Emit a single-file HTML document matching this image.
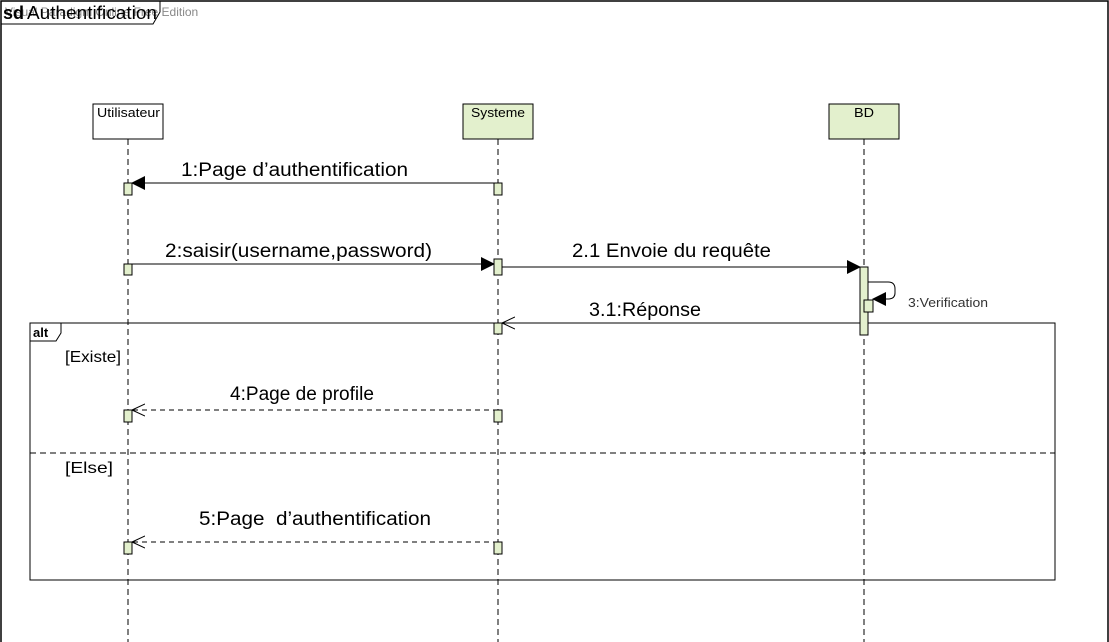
<!DOCTYPE html>
<html><head><meta charset="utf-8"><style>body{margin:0;background:#fff}svg{display:block}</style></head><body>
<svg width="1109" height="642" xmlns="http://www.w3.org/2000/svg" font-family="Liberation Sans, Arial, sans-serif">
<defs>
<marker id="f" markerWidth="14" markerHeight="14" refX="13" refY="7" orient="auto" markerUnits="userSpaceOnUse"><path d="M0,0 L14,7 L0,14 z" fill="#000"/></marker>
<marker id="o" markerWidth="14" markerHeight="14" refX="13" refY="7" orient="auto" markerUnits="userSpaceOnUse"><path d="M0,1 L13,7 L0,13" fill="none" stroke="#000"/></marker>
</defs>
<rect x="1" y="1" width="1107" height="660" fill="none" stroke="#000" stroke-width="1.5"/>
<text x="5" y="16" font-size="12" fill="#888">Visual Paradigm Online Free Edition</text>
<path d="M1,24 L153,24 L160,12 L160,1" fill="none" stroke="#000"/>
<text x="3" y="19" font-size="18" font-weight="bold">sd</text>
<text x="27" y="19" font-size="18" textLength="130" lengthAdjust="spacingAndGlyphs">Authentification</text>
<g stroke="#000" stroke-dasharray="6,4">
<line x1="128" y1="139" x2="128" y2="642"/>
<line x1="498" y1="139" x2="498" y2="642"/>
<line x1="864" y1="139" x2="864" y2="642"/>
</g>
<rect x="93" y="104" width="70" height="35" fill="#fff" stroke="#000"/>
<rect x="463" y="104" width="70" height="35" fill="#e3f0cd" stroke="#000"/>
<rect x="829" y="104" width="70" height="35" fill="#e3f0cd" stroke="#000"/>
<g font-size="13">
<text x="97" y="117" textLength="63" lengthAdjust="spacingAndGlyphs">Utilisateur</text>
<text x="471" y="117" textLength="54" lengthAdjust="spacingAndGlyphs">Systeme</text>
<text x="854" y="117" textLength="20" lengthAdjust="spacingAndGlyphs">BD</text>
</g>
<rect x="30" y="323" width="1025" height="257" fill="none" stroke="#000"/>
<path d="M30,341 L56,341 L61,333 L61,323" fill="none" stroke="#000"/>
<text x="33" y="337" font-size="13" font-weight="bold">alt</text>
<line x1="30" y1="453" x2="1055" y2="453" stroke="#000" stroke-dasharray="6,4"/>
<text x="65" y="362" font-size="16" textLength="56" lengthAdjust="spacingAndGlyphs">[Existe]</text>
<text x="65" y="473" font-size="16" textLength="48" lengthAdjust="spacingAndGlyphs">[Else]</text>
<g stroke="#000" fill="none">
<line x1="498" y1="183" x2="132" y2="183" marker-end="url(#f)"/>
<line x1="128" y1="264" x2="494" y2="264" marker-end="url(#f)"/>
<line x1="502" y1="267" x2="860" y2="267" marker-end="url(#f)"/>
<path d="M868,282 L888,282 Q895,282 895,289 L895,293 Q895,299 888,299 L873,299" marker-end="url(#f)"/>
<line x1="860" y1="323" x2="502" y2="323" marker-end="url(#o)"/>
<line x1="498" y1="410" x2="132" y2="410" stroke-dasharray="5,4" marker-end="url(#o)"/>
<line x1="498" y1="542" x2="132" y2="542" stroke-dasharray="5,4" marker-end="url(#o)"/>
</g>
<g fill="#e3f0cd" stroke="#000">
<rect x="124" y="183" width="8" height="12"/>
<rect x="494" y="183" width="8" height="12"/>
<rect x="124" y="264" width="8" height="11"/>
<rect x="494" y="259" width="8" height="16"/>
<rect x="860" y="267" width="8" height="68"/>
<rect x="864" y="300" width="9" height="12"/>
<rect x="494" y="323" width="8" height="11"/>
<rect x="124" y="410" width="8" height="12"/>
<rect x="494" y="410" width="8" height="12"/>
<rect x="124" y="542" width="8" height="12"/>
<rect x="494" y="542" width="8" height="12"/>
</g>
<g font-size="19" lengthAdjust="spacingAndGlyphs">
<text x="181" y="176" textLength="227" lengthAdjust="spacingAndGlyphs">1:Page d’authentification</text>
<text x="165" y="257" textLength="267" lengthAdjust="spacingAndGlyphs">2:saisir(username,password)</text>
<text x="572" y="257" textLength="199" lengthAdjust="spacingAndGlyphs">2.1 Envoie du requête</text>
<text x="589" y="316" textLength="112" lengthAdjust="spacingAndGlyphs">3.1:Réponse</text>
<text x="230" y="400" textLength="144" lengthAdjust="spacingAndGlyphs">4:Page de profile</text>
<text x="199" y="525" textLength="232" lengthAdjust="spacingAndGlyphs">5:Page &#160;d’authentification</text>
</g>
<text x="908" y="307" font-size="13" fill="#333" textLength="80" lengthAdjust="spacingAndGlyphs">3:Verification</text>
</svg>
</body></html>
